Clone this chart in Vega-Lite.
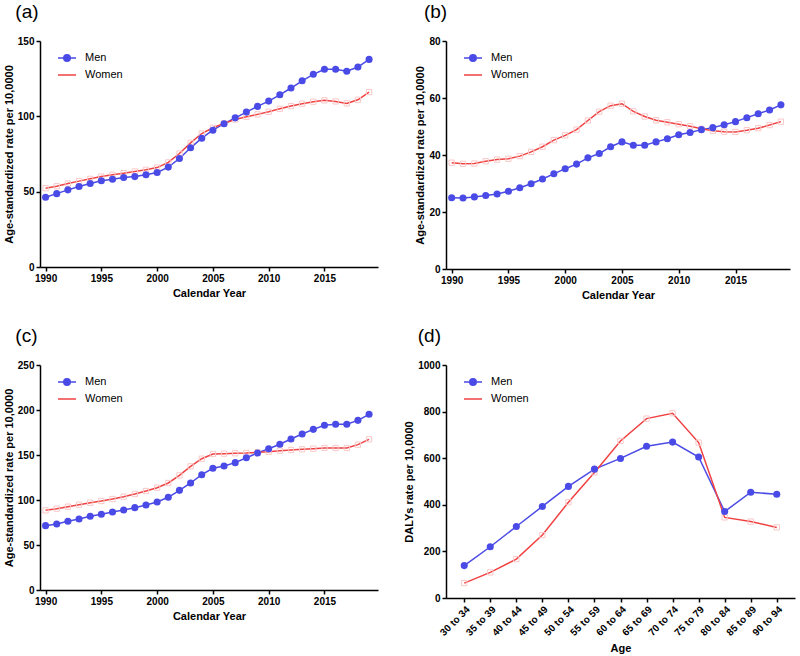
{
  "$schema": "https://vega.github.io/schema/vega-lite/v6.json",
  "background": "white",
  "padding": {"left": 3, "top": 3, "right": 3, "bottom": 2},
  "spacing": {"row": 27, "column": 25},
  "columns": 2,
  "datasets": {
    "a": [
      {"year": 1990, "sex": "Men", "rate": 46.3}, {"year": 1991, "sex": "Men", "rate": 48.7}, {"year": 1992, "sex": "Men", "rate": 51.2},
      {"year": 1993, "sex": "Men", "rate": 53.4}, {"year": 1994, "sex": "Men", "rate": 55.4}, {"year": 1995, "sex": "Men", "rate": 57.2},
      {"year": 1996, "sex": "Men", "rate": 58.3}, {"year": 1997, "sex": "Men", "rate": 59.4}, {"year": 1998, "sex": "Men", "rate": 60.0},
      {"year": 1999, "sex": "Men", "rate": 61.2}, {"year": 2000, "sex": "Men", "rate": 62.7}, {"year": 2001, "sex": "Men", "rate": 66.3},
      {"year": 2002, "sex": "Men", "rate": 72.0}, {"year": 2003, "sex": "Men", "rate": 79.1}, {"year": 2004, "sex": "Men", "rate": 85.5},
      {"year": 2005, "sex": "Men", "rate": 90.8}, {"year": 2006, "sex": "Men", "rate": 95.1}, {"year": 2007, "sex": "Men", "rate": 99.0},
      {"year": 2008, "sex": "Men", "rate": 102.8}, {"year": 2009, "sex": "Men", "rate": 106.6}, {"year": 2010, "sex": "Men", "rate": 110.1},
      {"year": 2011, "sex": "Men", "rate": 114.3}, {"year": 2012, "sex": "Men", "rate": 118.8}, {"year": 2013, "sex": "Men", "rate": 123.6},
      {"year": 2014, "sex": "Men", "rate": 127.9}, {"year": 2015, "sex": "Men", "rate": 131.2}, {"year": 2016, "sex": "Men", "rate": 131.2},
      {"year": 2017, "sex": "Men", "rate": 129.9}, {"year": 2018, "sex": "Men", "rate": 132.7}, {"year": 2019, "sex": "Men", "rate": 137.8},
      {"year": 1990, "sex": "Women", "rate": 52.3}, {"year": 1991, "sex": "Women", "rate": 53.6}, {"year": 1992, "sex": "Women", "rate": 55.4},
      {"year": 1993, "sex": "Women", "rate": 57.0}, {"year": 1994, "sex": "Women", "rate": 58.5}, {"year": 1995, "sex": "Women", "rate": 60.0},
      {"year": 1996, "sex": "Women", "rate": 61.2}, {"year": 1997, "sex": "Women", "rate": 62.3}, {"year": 1998, "sex": "Women", "rate": 63.4},
      {"year": 1999, "sex": "Women", "rate": 64.5}, {"year": 2000, "sex": "Women", "rate": 66.0}, {"year": 2001, "sex": "Women", "rate": 69.4},
      {"year": 2002, "sex": "Women", "rate": 75.3}, {"year": 2003, "sex": "Women", "rate": 82.4}, {"year": 2004, "sex": "Women", "rate": 88.6},
      {"year": 2005, "sex": "Women", "rate": 92.4}, {"year": 2006, "sex": "Women", "rate": 95.3}, {"year": 2007, "sex": "Women", "rate": 97.9},
      {"year": 2008, "sex": "Women", "rate": 99.7}, {"year": 2009, "sex": "Women", "rate": 101.3}, {"year": 2010, "sex": "Women", "rate": 103.0},
      {"year": 2011, "sex": "Women", "rate": 105.0}, {"year": 2012, "sex": "Women", "rate": 106.8}, {"year": 2013, "sex": "Women", "rate": 108.4},
      {"year": 2014, "sex": "Women", "rate": 109.7}, {"year": 2015, "sex": "Women", "rate": 110.6}, {"year": 2016, "sex": "Women", "rate": 109.9},
      {"year": 2017, "sex": "Women", "rate": 108.6}, {"year": 2018, "sex": "Women", "rate": 111.0}, {"year": 2019, "sex": "Women", "rate": 116.1}
    ],
    "b": [
      {"year": 1990, "sex": "Men", "rate": 25.0}, {"year": 1991, "sex": "Men", "rate": 24.9}, {"year": 1992, "sex": "Men", "rate": 25.3},
      {"year": 1993, "sex": "Men", "rate": 25.8}, {"year": 1994, "sex": "Men", "rate": 26.3}, {"year": 1995, "sex": "Men", "rate": 27.3},
      {"year": 1996, "sex": "Men", "rate": 28.5}, {"year": 1997, "sex": "Men", "rate": 29.9}, {"year": 1998, "sex": "Men", "rate": 31.6},
      {"year": 1999, "sex": "Men", "rate": 33.4}, {"year": 2000, "sex": "Men", "rate": 35.2}, {"year": 2001, "sex": "Men", "rate": 36.8},
      {"year": 2002, "sex": "Men", "rate": 39.0}, {"year": 2003, "sex": "Men", "rate": 40.5}, {"year": 2004, "sex": "Men", "rate": 42.9},
      {"year": 2005, "sex": "Men", "rate": 44.6}, {"year": 2006, "sex": "Men", "rate": 43.4}, {"year": 2007, "sex": "Men", "rate": 43.4},
      {"year": 2008, "sex": "Men", "rate": 44.6}, {"year": 2009, "sex": "Men", "rate": 45.7}, {"year": 2010, "sex": "Men", "rate": 47.1},
      {"year": 2011, "sex": "Men", "rate": 47.9}, {"year": 2012, "sex": "Men", "rate": 48.9}, {"year": 2013, "sex": "Men", "rate": 49.6},
      {"year": 2014, "sex": "Men", "rate": 50.6}, {"year": 2015, "sex": "Men", "rate": 51.7}, {"year": 2016, "sex": "Men", "rate": 53.1},
      {"year": 2017, "sex": "Men", "rate": 54.5}, {"year": 2018, "sex": "Men", "rate": 55.8}, {"year": 2019, "sex": "Men", "rate": 57.6},
      {"year": 1990, "sex": "Women", "rate": 37.3}, {"year": 1991, "sex": "Women", "rate": 36.9}, {"year": 1992, "sex": "Women", "rate": 37.0},
      {"year": 1993, "sex": "Women", "rate": 37.8}, {"year": 1994, "sex": "Women", "rate": 38.4}, {"year": 1995, "sex": "Women", "rate": 38.7},
      {"year": 1996, "sex": "Women", "rate": 39.6}, {"year": 1997, "sex": "Women", "rate": 41.1}, {"year": 1998, "sex": "Women", "rate": 42.9},
      {"year": 1999, "sex": "Women", "rate": 45.2}, {"year": 2000, "sex": "Women", "rate": 46.9}, {"year": 2001, "sex": "Women", "rate": 48.9},
      {"year": 2002, "sex": "Women", "rate": 52.1}, {"year": 2003, "sex": "Women", "rate": 55.2}, {"year": 2004, "sex": "Women", "rate": 57.3},
      {"year": 2005, "sex": "Women", "rate": 58.0}, {"year": 2006, "sex": "Women", "rate": 55.3}, {"year": 2007, "sex": "Women", "rate": 53.5},
      {"year": 2008, "sex": "Women", "rate": 52.2}, {"year": 2009, "sex": "Women", "rate": 51.5}, {"year": 2010, "sex": "Women", "rate": 50.8},
      {"year": 2011, "sex": "Women", "rate": 50.1}, {"year": 2012, "sex": "Women", "rate": 49.2}, {"year": 2013, "sex": "Women", "rate": 48.5},
      {"year": 2014, "sex": "Women", "rate": 48.2}, {"year": 2015, "sex": "Women", "rate": 48.1}, {"year": 2016, "sex": "Women", "rate": 48.7},
      {"year": 2017, "sex": "Women", "rate": 49.4}, {"year": 2018, "sex": "Women", "rate": 50.5}, {"year": 2019, "sex": "Women", "rate": 51.7}
    ],
    "c": [
      {"year": 1990, "sex": "Men", "rate": 71.5}, {"year": 1991, "sex": "Men", "rate": 73.3}, {"year": 1992, "sex": "Men", "rate": 76.3},
      {"year": 1993, "sex": "Men", "rate": 78.9}, {"year": 1994, "sex": "Men", "rate": 81.9}, {"year": 1995, "sex": "Men", "rate": 84.1},
      {"year": 1996, "sex": "Men", "rate": 86.7}, {"year": 1997, "sex": "Men", "rate": 88.9}, {"year": 1998, "sex": "Men", "rate": 91.5},
      {"year": 1999, "sex": "Men", "rate": 94.4}, {"year": 2000, "sex": "Men", "rate": 97.8}, {"year": 2001, "sex": "Men", "rate": 103.0},
      {"year": 2002, "sex": "Men", "rate": 110.7}, {"year": 2003, "sex": "Men", "rate": 118.9}, {"year": 2004, "sex": "Men", "rate": 128.1},
      {"year": 2005, "sex": "Men", "rate": 135.2}, {"year": 2006, "sex": "Men", "rate": 137.8}, {"year": 2007, "sex": "Men", "rate": 141.5},
      {"year": 2008, "sex": "Men", "rate": 147.0}, {"year": 2009, "sex": "Men", "rate": 152.2}, {"year": 2010, "sex": "Men", "rate": 157.0},
      {"year": 2011, "sex": "Men", "rate": 161.9}, {"year": 2012, "sex": "Men", "rate": 167.8}, {"year": 2013, "sex": "Men", "rate": 173.3},
      {"year": 2014, "sex": "Men", "rate": 178.5}, {"year": 2015, "sex": "Men", "rate": 183.0}, {"year": 2016, "sex": "Men", "rate": 184.1},
      {"year": 2017, "sex": "Men", "rate": 184.1}, {"year": 2018, "sex": "Men", "rate": 188.5}, {"year": 2019, "sex": "Men", "rate": 195.2},
      {"year": 1990, "sex": "Women", "rate": 88.5}, {"year": 1991, "sex": "Women", "rate": 90.4}, {"year": 1992, "sex": "Women", "rate": 92.6},
      {"year": 1993, "sex": "Women", "rate": 94.8}, {"year": 1994, "sex": "Women", "rate": 97.0}, {"year": 1995, "sex": "Women", "rate": 98.9},
      {"year": 1996, "sex": "Women", "rate": 101.1}, {"year": 1997, "sex": "Women", "rate": 103.7}, {"year": 1998, "sex": "Women", "rate": 106.7},
      {"year": 1999, "sex": "Women", "rate": 110.0}, {"year": 2000, "sex": "Women", "rate": 113.7}, {"year": 2001, "sex": "Women", "rate": 118.9},
      {"year": 2002, "sex": "Women", "rate": 127.4}, {"year": 2003, "sex": "Women", "rate": 137.4}, {"year": 2004, "sex": "Women", "rate": 145.9},
      {"year": 2005, "sex": "Women", "rate": 151.1}, {"year": 2006, "sex": "Women", "rate": 151.5}, {"year": 2007, "sex": "Women", "rate": 151.9},
      {"year": 2008, "sex": "Women", "rate": 152.2}, {"year": 2009, "sex": "Women", "rate": 153.0}, {"year": 2010, "sex": "Women", "rate": 153.7},
      {"year": 2011, "sex": "Women", "rate": 154.8}, {"year": 2012, "sex": "Women", "rate": 155.6}, {"year": 2013, "sex": "Women", "rate": 156.3},
      {"year": 2014, "sex": "Women", "rate": 157.0}, {"year": 2015, "sex": "Women", "rate": 157.8}, {"year": 2016, "sex": "Women", "rate": 157.8},
      {"year": 2017, "sex": "Women", "rate": 157.8}, {"year": 2018, "sex": "Women", "rate": 161.5}, {"year": 2019, "sex": "Women", "rate": 167.4}
    ],
    "d": [
      {"age": "30 to 34", "sex": "Men", "rate": 139}, {"age": "35 to 39", "sex": "Men", "rate": 220}, {"age": "40 to 44", "sex": "Men", "rate": 307},
      {"age": "45 to 49", "sex": "Men", "rate": 393}, {"age": "50 to 54", "sex": "Men", "rate": 479}, {"age": "55 to 59", "sex": "Men", "rate": 553},
      {"age": "60 to 64", "sex": "Men", "rate": 599}, {"age": "65 to 69", "sex": "Men", "rate": 651}, {"age": "70 to 74", "sex": "Men", "rate": 669},
      {"age": "75 to 79", "sex": "Men", "rate": 605}, {"age": "80 to 84", "sex": "Men", "rate": 371}, {"age": "85 to 89", "sex": "Men", "rate": 454},
      {"age": "90 to 94", "sex": "Men", "rate": 445},
      {"age": "30 to 34", "sex": "Women", "rate": 64}, {"age": "35 to 39", "sex": "Women", "rate": 110}, {"age": "40 to 44", "sex": "Women", "rate": 167},
      {"age": "45 to 49", "sex": "Women", "rate": 270}, {"age": "50 to 54", "sex": "Women", "rate": 411}, {"age": "55 to 59", "sex": "Women", "rate": 539},
      {"age": "60 to 64", "sex": "Women", "rate": 674}, {"age": "65 to 69", "sex": "Women", "rate": 770}, {"age": "70 to 74", "sex": "Women", "rate": 793},
      {"age": "75 to 79", "sex": "Women", "rate": 667}, {"age": "80 to 84", "sex": "Women", "rate": 346}, {"age": "85 to 89", "sex": "Women", "rate": 328},
      {"age": "90 to 94", "sex": "Women", "rate": 303}
    ]
  },
  "concat": [
    {
      "width": 338,
      "height": 226,
      "title": {"text": "(a)", "frame": "bounds", "anchor": "start", "dx": 12, "offset": 14},
      "data": {"name": "a"},
      "encoding": {
        "x": {"field": "year", "type": "quantitative", "scale": {"domain": [1989.5, 2019.8], "nice": false, "zero": false},
              "axis": {"values": [1990, 1995, 2000, 2005, 2010, 2015], "format": "d", "title": "Calendar Year"}},
        "y": {"field": "rate", "type": "quantitative", "scale": {"domain": [0, 150], "nice": false},
              "axis": {"values": [0, 50, 100, 150], "title": "Age-standardized rate per 10,0000"}}
      },
      "layer": [
        {"mark": {"type": "line", "strokeWidth": 1.5},
         "encoding": {"color": {"field": "sex", "type": "nominal", "scale": {"domain": ["Men", "Women"], "range": ["#4a4ae6", "#f04242"]},
           "legend": {"title": null, "orient": "none", "legendX": 17, "legendY": 7, "padding": 0, "symbolSize": 324, "labelFontSize": 11, "labelFontWeight": "normal", "labelOffset": 8, "rowPadding": 0,
             "encode": {"symbols": {"update": {"shape": {"signal": "datum.value === 'Men' ? 'M-1,0L1,0M0.36,0A0.36,0.36,0,1,1,-0.36,0A0.36,0.36,0,1,1,0.36,0Z' : 'M-1,0L1,0'"},
               "fill": {"signal": "datum.value === 'Men' ? '#4a4ae6' : 'transparent'"},
               "stroke": {"signal": "datum.value === 'Men' ? '#4a4ae6' : '#f04242'"}, "strokeWidth": {"value": 1.5}, "opacity": {"value": 1}}}}}}}},
        {"transform": [{"filter": "datum.sex === 'Women'"}], "mark": {"type": "square", "filled": false, "color": "#f8c8c8", "size": 28, "strokeWidth": 1, "opacity": 1}},
        {"transform": [{"filter": "datum.sex === 'Men'"}], "mark": {"type": "circle", "color": "#4a4ae6", "size": 50, "opacity": 1}}
      ]
    },
    {
      "width": 344,
      "height": 228,
      "title": {"text": "(b)", "frame": "bounds", "anchor": "start", "dx": 9, "offset": 14},
      "data": {"name": "b"},
      "encoding": {
        "x": {"field": "year", "type": "quantitative", "scale": {"domain": [1989.5, 2019.8], "nice": false, "zero": false},
              "axis": {"values": [1990, 1995, 2000, 2005, 2010, 2015], "format": "d", "title": "Calendar Year"}},
        "y": {"field": "rate", "type": "quantitative", "scale": {"domain": [0, 80], "nice": false},
              "axis": {"values": [0, 20, 40, 60, 80], "title": "Age-standardized rate per 10,0000"}}
      },
      "layer": [
        {"mark": {"type": "line", "strokeWidth": 1.5},
         "encoding": {"color": {"field": "sex", "type": "nominal", "scale": {"domain": ["Men", "Women"], "range": ["#4a4ae6", "#f04242"]},
           "legend": {"title": null, "orient": "none", "legendX": 17, "legendY": 7, "padding": 0, "symbolSize": 324, "labelFontSize": 11, "labelFontWeight": "normal", "labelOffset": 8, "rowPadding": 0,
             "encode": {"symbols": {"update": {"shape": {"signal": "datum.value === 'Men' ? 'M-1,0L1,0M0.36,0A0.36,0.36,0,1,1,-0.36,0A0.36,0.36,0,1,1,0.36,0Z' : 'M-1,0L1,0'"},
               "fill": {"signal": "datum.value === 'Men' ? '#4a4ae6' : 'transparent'"},
               "stroke": {"signal": "datum.value === 'Men' ? '#4a4ae6' : '#f04242'"}, "strokeWidth": {"value": 1.5}, "opacity": {"value": 1}}}}}}}},
        {"transform": [{"filter": "datum.sex === 'Women'"}], "mark": {"type": "square", "filled": false, "color": "#f8c8c8", "size": 28, "strokeWidth": 1, "opacity": 1}},
        {"transform": [{"filter": "datum.sex === 'Men'"}], "mark": {"type": "circle", "color": "#4a4ae6", "size": 50, "opacity": 1}}
      ]
    },
    {
      "width": 338,
      "height": 225,
      "title": {"text": "(c)", "frame": "bounds", "anchor": "start", "dx": 12, "offset": 14},
      "data": {"name": "c"},
      "encoding": {
        "x": {"field": "year", "type": "quantitative", "scale": {"domain": [1989.5, 2019.8], "nice": false, "zero": false},
              "axis": {"values": [1990, 1995, 2000, 2005, 2010, 2015], "format": "d", "title": "Calendar Year"}},
        "y": {"field": "rate", "type": "quantitative", "scale": {"domain": [0, 250], "nice": false},
              "axis": {"values": [0, 50, 100, 150, 200, 250], "title": "Age-standardized rate per 10,0000"}}
      },
      "layer": [
        {"mark": {"type": "line", "strokeWidth": 1.5},
         "encoding": {"color": {"field": "sex", "type": "nominal", "scale": {"domain": ["Men", "Women"], "range": ["#4a4ae6", "#f04242"]},
           "legend": {"title": null, "orient": "none", "legendX": 17, "legendY": 7, "padding": 0, "symbolSize": 324, "labelFontSize": 11, "labelFontWeight": "normal", "labelOffset": 8, "rowPadding": 0,
             "encode": {"symbols": {"update": {"shape": {"signal": "datum.value === 'Men' ? 'M-1,0L1,0M0.36,0A0.36,0.36,0,1,1,-0.36,0A0.36,0.36,0,1,1,0.36,0Z' : 'M-1,0L1,0'"},
               "fill": {"signal": "datum.value === 'Men' ? '#4a4ae6' : 'transparent'"},
               "stroke": {"signal": "datum.value === 'Men' ? '#4a4ae6' : '#f04242'"}, "strokeWidth": {"value": 1.5}, "opacity": {"value": 1}}}}}}}},
        {"transform": [{"filter": "datum.sex === 'Women'"}], "mark": {"type": "square", "filled": false, "color": "#f8c8c8", "size": 28, "strokeWidth": 1, "opacity": 1}},
        {"transform": [{"filter": "datum.sex === 'Men'"}], "mark": {"type": "circle", "color": "#4a4ae6", "size": 50, "opacity": 1}}
      ]
    },
    {
      "width": 349,
      "height": 233,
      "title": {"text": "(d)", "frame": "bounds", "anchor": "start", "dx": 14, "offset": 14},
      "data": {"name": "d"},
      "encoding": {
        "x": {"field": "age", "type": "ordinal", "scale": {"type": "point", "padding": 0.7},
              "axis": {"labelAngle": -45, "title": "Age", "titlePadding": 5}},
        "y": {"field": "rate", "type": "quantitative", "scale": {"domain": [0, 1000], "nice": false},
              "axis": {"values": [0, 200, 400, 600, 800, 1000], "format": "d", "title": "DALYs rate per 10,0000"}}
      },
      "layer": [
        {"mark": {"type": "line", "strokeWidth": 1.5},
         "encoding": {"color": {"field": "sex", "type": "nominal", "scale": {"domain": ["Men", "Women"], "range": ["#4a4ae6", "#f04242"]},
           "legend": {"title": null, "orient": "none", "legendX": 17, "legendY": 7, "padding": 0, "symbolSize": 324, "labelFontSize": 11, "labelFontWeight": "normal", "labelOffset": 8, "rowPadding": 0,
             "encode": {"symbols": {"update": {"shape": {"signal": "datum.value === 'Men' ? 'M-1,0L1,0M0.36,0A0.36,0.36,0,1,1,-0.36,0A0.36,0.36,0,1,1,0.36,0Z' : 'M-1,0L1,0'"},
               "fill": {"signal": "datum.value === 'Men' ? '#4a4ae6' : 'transparent'"},
               "stroke": {"signal": "datum.value === 'Men' ? '#4a4ae6' : '#f04242'"}, "strokeWidth": {"value": 1.5}, "opacity": {"value": 1}}}}}}}},
        {"transform": [{"filter": "datum.sex === 'Women'"}], "mark": {"type": "square", "filled": false, "color": "#f8c8c8", "size": 28, "strokeWidth": 1, "opacity": 1}},
        {"transform": [{"filter": "datum.sex === 'Men'"}], "mark": {"type": "circle", "color": "#4a4ae6", "size": 50, "opacity": 1}}
      ]
    }
  ],
  "resolve": {"scale": {"color": "independent"}},
  "config": {
    "font": "Liberation Sans",
    "view": {"stroke": null},
    "axis": {
      "grid": false, "domainColor": "black", "domainWidth": 1.5, "tickColor": "black", "tickWidth": 1.5, "tickSize": 4,
      "labelFontWeight": "bold", "labelFontSize": 10, "labelColor": "black", "labelPadding": 2,
      "titleFontWeight": "bold", "titleFontSize": 11, "titleColor": "black", "titlePadding": 4
    },
    "axisY": {"titlePadding": 3},
    "title": {"fontSize": 19, "fontWeight": "normal", "color": "black"},
    "legend": {"labelColor": "black", "labelFont": "Liberation Sans"}
  }
}
